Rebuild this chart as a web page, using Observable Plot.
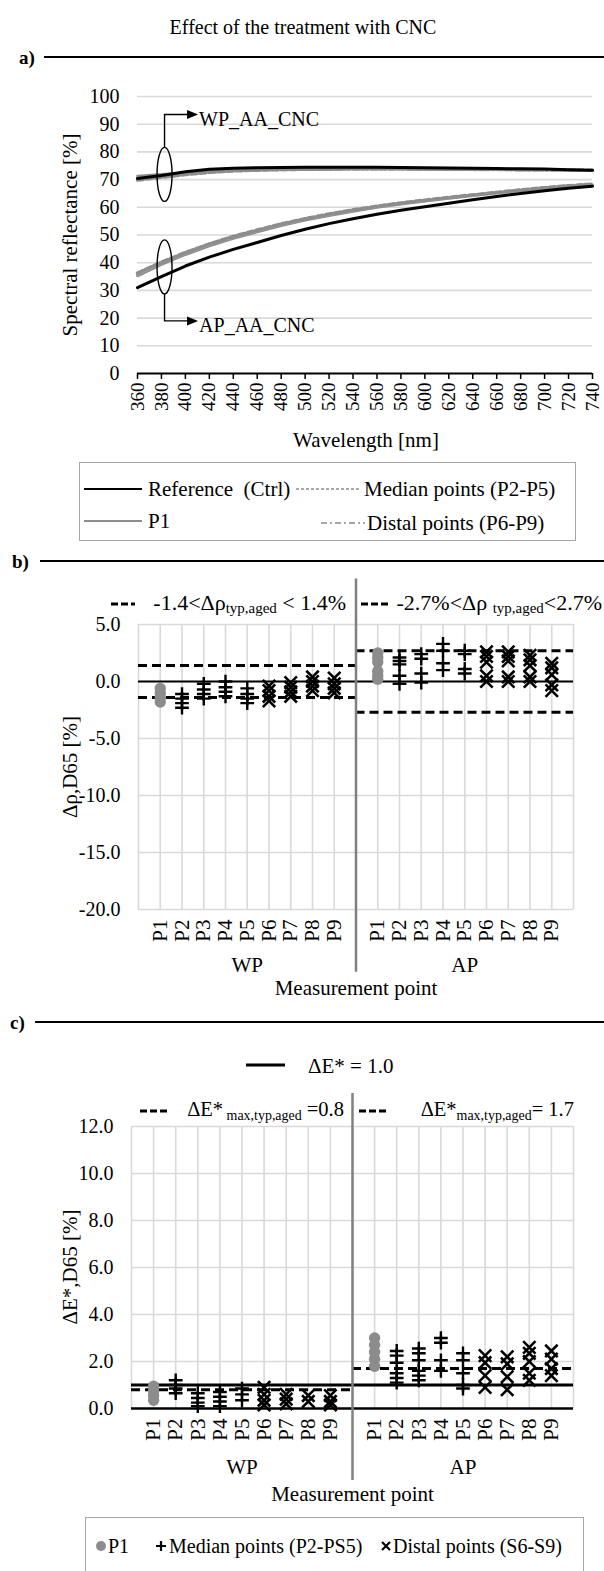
<!DOCTYPE html>
<html><head><meta charset="utf-8">
<script src="https://cdn.jsdelivr.net/npm/d3@7"></script>
<script src="https://cdn.jsdelivr.net/npm/@observablehq/plot@0.6"></script>
<style>
body{margin:0;background:#fff;}
#page{position:relative;width:604px;height:1571px;overflow:hidden;font-family:"Liberation Serif","Times New Roman",serif;color:#000;background:#fff;}
.abs{position:absolute;white-space:nowrap;line-height:1;}
.rule{position:absolute;background:#000;}
.box{position:absolute;border:1.5px solid #a6a6a6;box-sizing:border-box;}
sub{font-size:0.68em;vertical-align:-0.25em;}
.plotwrap{position:absolute;left:0;}
</style></head><body><div id="page"></div>
<script>
// ---------- DATA ----------
const wavelengths = [360,380,400,420,440,460,480,500,520,540,560,580,600,620,640,660,680,700,720,740];
const wpReference = [70.4,71.5,72.8,73.7,74.1,74.3,74.4,74.5,74.5,74.5,74.5,74.4,74.3,74.2,74.1,74.0,73.9,73.8,73.6,73.4];
const wpP1        = [71.3,71.9,72.5,73.0,73.3,73.5,73.6,73.7,73.7,73.8,73.8,73.8,73.7,73.7,73.6,73.6,73.5,73.5,73.4,73.3];
const wpMedian    = [69.8,70.8,71.8,72.6,73.1,73.4,73.6,73.7,73.8,73.9,73.9,73.9,73.8,73.8,73.7,73.7,73.6,73.6,73.5,73.4];
const wpDistal    = [70.6,71.4,72.2,72.9,73.3,73.5,73.6,73.7,73.8,73.8,73.8,73.8,73.7,73.7,73.6,73.6,73.5,73.5,73.4,73.3];
const apReference = [31.0,35.0,38.8,42.0,44.8,47.3,49.8,52.1,54.1,55.9,57.5,58.9,60.2,61.5,62.7,63.9,65.0,66.0,66.9,67.6];
const apP1        = [35.2,39.3,42.9,46.0,48.7,51.1,53.3,55.3,57.0,58.5,59.9,61.1,62.2,63.2,64.2,65.1,66.0,66.8,67.5,68.0];
const apMedian    = [36.3,40.2,43.7,46.8,49.5,51.8,54.0,55.9,57.6,59.1,60.4,61.6,62.6,63.6,64.5,65.4,66.3,67.1,67.8,68.4];
const apDistal    = [35.8,39.8,43.3,46.4,49.1,51.5,53.7,55.6,57.3,58.8,60.2,61.4,62.4,63.4,64.4,65.3,66.2,67.0,67.7,68.3];
const reflTicks = [0,10,20,30,40,50,60,70,80,90,100];

const pointLabels = ["P1","P2","P3","P4","P5","P6","P7","P8","P9"];
const sideLabels = ["WP","AP"];

// Δρ,D65 [%] per measurement point
const dRhoWP = [
  [-0.6,-1.0,-1.4,-1.8],
  [-1.1,-1.5,-1.9,-2.3],
  [-0.2,-0.7,-1.1,-1.5],
  [0.0,-0.5,-0.9,-1.3],
  [-0.6,-1.1,-1.5,-1.9],
  [-0.4,-0.8,-1.3,-1.7],
  [-0.1,-0.5,-0.9,-1.3],
  [0.4,0.0,-0.4,-0.8],
  [0.3,-0.2,-0.6,-1.0]
];
const dRhoAP = [
  [2.5,2.1,1.7,0.9,0.5,0.2],
  [2.1,1.8,1.5,0.5,-0.2],
  [2.4,2.0,0.7,-0.1],
  [3.3,2.7,1.6,1.0],
  [2.7,2.4,1.1,0.7],
  [2.6,2.2,1.7,0.5,0.0],
  [2.6,2.2,1.8,0.4,0.0],
  [2.3,1.9,1.4,0.4,0.0],
  [1.6,1.2,0.6,-0.3,-0.8]
];
const dRhoLimitWP = 1.4;
const dRhoLimitAP = 2.7;
const dRhoTicks = [-20,-15,-10,-5,0,5];

// ΔE*,D65 per measurement point
const dEWP = [
  [0.95,0.75,0.55,0.35],
  [1.2,1.0,0.85,0.65],
  [0.65,0.45,0.25,0.1],
  [0.7,0.5,0.3,0.1],
  [0.85,0.6,0.35],
  [0.9,0.6,0.35,0.15],
  [0.6,0.4,0.2],
  [0.55,0.3],
  [0.55,0.3,0.15]
];
const dEAP = [
  [3.0,2.7,2.4,2.1,1.8],
  [2.45,2.25,1.95,1.5,1.3,1.1],
  [2.55,2.35,2.05,1.6,1.4,1.2],
  [3.0,2.8,2.05,1.6],
  [2.35,2.05,1.5,1.0,0.85],
  [2.25,1.95,1.4,0.9],
  [2.2,1.9,1.35,0.8],
  [2.6,2.35,2.0,1.5,1.2],
  [2.45,2.1,1.7,1.4]
];
const dEThreshold = 1.0;
const dEMaxWP = 0.8;
const dEMaxAP = 1.7;
const dETicks = [0,2,4,6,8,10,12];

// ---------- HELPERS ----------
const FONT = '"Liberation Serif","Times New Roman",serif';
const GRID = "#d9d9d9";
const GRAY = "#8c8c8c";
const page = document.getElementById("page");

function el(html, x, y, opts = {}) {
  const d = document.createElement("div");
  d.className = "abs";
  d.innerHTML = html;
  d.style.left = x + "px";
  d.style.top = y + "px";
  d.style.fontSize = (opts.size || 21) + "px";
  if (opts.bold) d.style.fontWeight = "bold";
  const ax = opts.anchor === "start" ? "0" : opts.anchor === "end" ? "-100%" : "-50%";
  d.style.transform = `translate(${ax},-50%)` + (opts.rotate ? ` rotate(${opts.rotate}deg)` : "");
  page.appendChild(d);
  return d;
}
function rule(x, y, w, h) {
  const d = document.createElement("div");
  d.className = "rule";
  d.style.left = x + "px"; d.style.top = (y - h / 2) + "px";
  d.style.width = w + "px"; d.style.height = h + "px";
  page.appendChild(d);
}
function sample(stroke, dash, width, w) {
  return `<svg width="${w}" height="8" style="display:block"><line x1="0" x2="${w}" y1="4" y2="4" stroke="${stroke}" stroke-width="${width}" ${dash ? `stroke-dasharray="${dash}"` : ""}/></svg>`;
}
function place(svg, top) {
  const w = document.createElement("div");
  w.className = "plotwrap";
  w.style.top = top + "px";
  w.appendChild(svg);
  page.appendChild(w);
}
function pointRows(wp, ap) {
  const out = [];
  [wp, ap].forEach((g, gi) => g.forEach((vals, k) => vals.forEach(v =>
    out.push({pos: gi * 10 + k + 1, value: v, kind: k === 0 ? "p1" : k < 5 ? "median" : "distal"}))));
  return out;
}
const tickPositions = [1,2,3,4,5,6,7,8,9,11,12,13,14,15,16,17,18,19];
const posLabel = i => pointLabels[(i % 10) - 1];

// ---------- HEADERS ----------
el("Effect of the treatment with CNC", 303, 27, {size: 20});
el("a)", 19, 57, {size: 19, bold: true, anchor: "start"});
rule(44, 57, 560, 2.5);
el("b)", 12, 561, {size: 19, bold: true, anchor: "start"});
rule(40, 561, 564, 2.5);
el("c)", 10, 1022, {size: 19, bold: true, anchor: "start"});
rule(35, 1022, 569, 2.5);

// ---------- PANEL A ----------
const spectra = [];
const seriesDefs = [
  {name: "wpP1", vals: wpP1, kind: "p1"}, {name: "wpMedian", vals: wpMedian, kind: "median"},
  {name: "wpDistal", vals: wpDistal, kind: "distal"}, {name: "wpRef", vals: wpReference, kind: "ref"},
  {name: "apP1", vals: apP1, kind: "p1"}, {name: "apMedian", vals: apMedian, kind: "median"},
  {name: "apDistal", vals: apDistal, kind: "distal"}, {name: "apRef", vals: apReference, kind: "ref"}
];
seriesDefs.forEach(s => s.vals.forEach((v, i) => spectra.push({series: s.name, kind: s.kind, wl: wavelengths[i], r: v})));
const lineStyle = {
  p1: {stroke: GRAY, strokeWidth: 2.6},
  median: {stroke: GRAY, strokeWidth: 3.4, strokeDasharray: "6,3"},
  distal: {stroke: "#9a9a9a", strokeWidth: 3, strokeDasharray: "10,3,2,3"},
  ref: {stroke: "#000", strokeWidth: 3}
};
const plotA = Plot.plot({
  width: 604, height: 380,
  marginLeft: 137, marginRight: 12, marginTop: 26, marginBottom: 77,
  style: {fontFamily: FONT, fontSize: "20px", background: "transparent", overflow: "visible", color: "#000"},
  x: {domain: [360, 740]},
  y: {domain: [0, 100]},
  marks: [
    Plot.gridY(reflTicks.filter(d => d > 0), {stroke: GRID, strokeOpacity: 1, strokeWidth: 1.6}),
    ...["p1", "distal", "median", "ref"].map(k =>
      Plot.line(spectra.filter(d => d.kind === k), {x: "wl", y: "r", z: "series", ...lineStyle[k]})),
    Plot.ruleY([0], {stroke: "#000", strokeWidth: 2}),
    Plot.axisY(reflTicks, {tickSize: 0, tickPadding: 18, label: null, fontSize: 20}),
    Plot.axisX(wavelengths, {tickSize: 6, tickPadding: 3, tickRotate: -90, label: null, fontSize: 19, strokeWidth: 1.5})
  ]
});
{
  const sx = plotA.scale("x"), sy = plotA.scale("y");
  const g = d3.select(plotA).append("g").attr("fill", "none").attr("stroke", "#000").attr("stroke-width", 1.4);
  const annot = [
    {text: "WP_AA_CNC", wl: 383, center: 71.7, arm: 93.3, dir: -1},
    {text: "AP_AA_CNC", wl: 383, center: 38.3, arm: 18.8, dir: 1}
  ];
  annot.forEach(a => {
    const cx = sx.apply(a.wl), cy = sy.apply(a.center), ry = 27, rx = 7.5;
    g.append("ellipse").attr("cx", cx).attr("cy", cy).attr("rx", rx).attr("ry", ry);
    const ay = sy.apply(a.arm), tip = sx.apply(411);
    g.append("path").attr("d", `M${cx},${cy + a.dir * ry}V${ay}H${tip - 9}`);
    g.append("path").attr("d", `M${tip},${ay}L${tip - 11},${ay - 4.5}L${tip - 11},${ay + 4.5}Z`).attr("fill", "#000").attr("stroke", "none");
    d3.select(plotA).append("text").attr("x", tip + 1).attr("y", ay + 4).attr("dy", "0.35em")
      .attr("text-anchor", "start").attr("font-size", 20).attr("font-family", FONT).text(a.text);
  });
}
place(plotA, 70);
el("Spectral reflectance [%]", 70, 235, {size: 21, rotate: -90});
el("Wavelength [nm]", 366, 440, {size: 21});

// legend a
{
  const b = document.createElement("div");
  b.className = "box";
  Object.assign(b.style, {left: "79px", top: "462px", width: "497px", height: "79px"});
  page.appendChild(b);
  el(sample("#000", null, 2.2, 58), 84, 489, {anchor: "start"});
  el("Reference&nbsp; (Ctrl)", 148, 489, {size: 21, anchor: "start"});
  el(sample(GRAY, null, 2.2, 58), 84, 521, {anchor: "start"});
  el("P1", 148, 521, {size: 21, anchor: "start"});
  el(sample(GRAY, "3,2", 1.6, 64), 296, 489, {anchor: "start"});
  el("Median points (P2-P5)", 364, 489, {size: 21, anchor: "start"});
  el(sample(GRAY, "6,3,2,3", 1.6, 44), 321, 523, {anchor: "start"});
  el("Distal points (P6-P9)", 367, 523, {size: 21, anchor: "start"});
}

// ---------- PANEL B ----------
const rowsB = pointRows(dRhoWP, dRhoAP);
function pointMarks(rows) {
  return [
    Plot.dot(rows.filter(d => d.kind === "p1"), {x: "pos", y: "value", r: 5.7, fill: GRAY}),
    Plot.dot(rows.filter(d => d.kind === "median"), {x: "pos", y: "value", symbol: "plus", r: 4.5, stroke: "#000", strokeWidth: 2.4}),
    Plot.dot(rows.filter(d => d.kind === "distal"), {x: "pos", y: "value", symbol: "times", r: 5.7, stroke: "#000", strokeWidth: 2.6})
  ];
}
const plotB = Plot.plot({
  width: 604, height: 425,
  marginLeft: 138, marginRight: 31, marginTop: 49, marginBottom: 91,
  style: {fontFamily: FONT, fontSize: "20px", background: "transparent", overflow: "visible", color: "#000"},
  x: {domain: [0, 20]},
  y: {domain: [-20, 5]},
  marks: [
    Plot.gridX(d3.range(0, 21), {stroke: GRID, strokeOpacity: 1, strokeWidth: 1.6}),
    Plot.gridY(dRhoTicks, {stroke: GRID, strokeOpacity: 1, strokeWidth: 1.6}),
    Plot.ruleY([0], {x1: 0, x2: 20, stroke: "#000", strokeWidth: 2}),
    Plot.ruleY([-dRhoLimitWP, dRhoLimitWP], {x1: 0, x2: 10, stroke: "#000", strokeWidth: 3, strokeDasharray: "9,5"}),
    Plot.ruleY([-dRhoLimitAP, dRhoLimitAP], {x1: 10, x2: 20, stroke: "#000", strokeWidth: 3, strokeDasharray: "9,5"}),
    Plot.ruleX([10], {y1: 9.0, y2: -25.5, stroke: "#808080", strokeWidth: 2.5}),
    ...pointMarks(rowsB),
    Plot.axisY(dRhoTicks, {tickSize: 0, tickPadding: 18, label: null, fontSize: 20, tickFormat: d => d.toFixed(1)}),
    Plot.axisX(tickPositions, {tickSize: 0, tickPadding: 10, tickRotate: -90, label: null, fontSize: 21, tickFormat: posLabel}),
    Plot.text(sideLabels.map((s, i) => ({pos: i * 10 + 5, s})), {x: "pos", text: "s", frameAnchor: "bottom", lineAnchor: "middle", dy: 56, fontSize: 21}),
    Plot.text(["Measurement point"], {x: 10, frameAnchor: "bottom", lineAnchor: "middle", dy: 79, fontSize: 21})
  ]
});
place(plotB, 575);
el("Δρ,D65 [%]", 70, 767, {size: 21, rotate: -90});
el(sample("#000", "7,3", 3, 24), 111, 604, {anchor: "start"});
el("-1.4&lt;Δρ<sub>typ,aged</sub> &lt; 1.4%", 346, 604, {size: 22, anchor: "end"});
el(sample("#000", "7,3", 3, 27), 361, 604, {anchor: "start"});
el("-2.7%&lt;Δρ <sub>typ,aged</sub>&lt;2.7%", 602, 604, {size: 22, anchor: "end"});

// ---------- PANEL C ----------
const rowsC = pointRows(dEWP, dEAP);
const plotC = Plot.plot({
  width: 604, height: 415,
  marginLeft: 131, marginRight: 31, marginTop: 41, marginBottom: 92,
  style: {fontFamily: FONT, fontSize: "20px", background: "transparent", overflow: "visible", color: "#000"},
  x: {domain: [0, 20]},
  y: {domain: [0, 12]},
  marks: [
    Plot.gridX(d3.range(0, 21), {stroke: GRID, strokeOpacity: 1, strokeWidth: 1.6}),
    Plot.gridY(dETicks.filter(d => d > 0), {stroke: GRID, strokeOpacity: 1, strokeWidth: 1.6}),
    Plot.ruleY([0], {x1: 0, x2: 20, stroke: "#000", strokeWidth: 2.5}),
    Plot.ruleY([dEThreshold], {x1: 0, x2: 20, stroke: "#000", strokeWidth: 3}),
    Plot.ruleY([dEMaxWP], {x1: 0, x2: 10, stroke: "#000", strokeWidth: 3, strokeDasharray: "9,5"}),
    Plot.ruleY([dEMaxAP], {x1: 10, x2: 20, stroke: "#000", strokeWidth: 3, strokeDasharray: "9,5"}),
    Plot.ruleX([10], {y1: 13.4, y2: -3.06, stroke: "#808080", strokeWidth: 2.5}),
    ...pointMarks(rowsC),
    Plot.axisY(dETicks, {tickSize: 0, tickPadding: 18, label: null, fontSize: 20, tickFormat: d => d.toFixed(1)}),
    Plot.axisX(tickPositions, {tickSize: 0, tickPadding: 10, tickRotate: -90, label: null, fontSize: 21, tickFormat: posLabel}),
    Plot.text(sideLabels.map((s, i) => ({pos: i * 10 + 5, s})), {x: "pos", text: "s", frameAnchor: "bottom", lineAnchor: "middle", dy: 59, fontSize: 21}),
    Plot.text(["Measurement point"], {x: 10, frameAnchor: "bottom", lineAnchor: "middle", dy: 86, fontSize: 21})
  ]
});
place(plotC, 1085);
el("ΔE*,D65 [%]", 70, 1267, {size: 21, rotate: -90});
el(sample("#000", null, 3, 39), 246, 1065, {anchor: "start"});
el("ΔE* = 1.0", 308, 1066, {size: 21, anchor: "start"});
el(sample("#000", "7,3", 3, 27), 140, 1111, {anchor: "start"});
el("ΔE*<sub> max,typ,aged</sub> =0.8", 344, 1111, {size: 20.5, anchor: "end"});
el(sample("#000", "7,3", 3, 27), 359, 1111, {anchor: "start"});
el("ΔE*<sub>max,typ,aged</sub>= 1.7", 574, 1111, {size: 20.5, anchor: "end"});

// legend c
{
  const b = document.createElement("div");
  b.className = "box";
  Object.assign(b.style, {left: "85px", top: "1517px", width: "499px", height: "60px"});
  page.appendChild(b);
  el(`<svg width="12" height="12" style="display:block"><circle cx="6" cy="6" r="5" fill="${GRAY}"/></svg>`, 95, 1546, {anchor: "start"});
  el("P1", 108, 1546, {size: 20, anchor: "start"});
  el(`<svg width="12" height="12" style="display:block"><path d="M6,1V11M1,6H11" stroke="#000" stroke-width="2.2"/></svg>`, 155, 1546, {anchor: "start"});
  el("Median points (P2-PS5)", 169, 1546, {size: 20, anchor: "start"});
  el(`<svg width="12" height="12" style="display:block"><path d="M2,2L10,10M10,2L2,10" stroke="#000" stroke-width="2.2"/></svg>`, 380, 1546, {anchor: "start"});
  el("Distal points (S6-S9)", 393, 1546, {size: 20, anchor: "start"});
}
</script></body></html>
